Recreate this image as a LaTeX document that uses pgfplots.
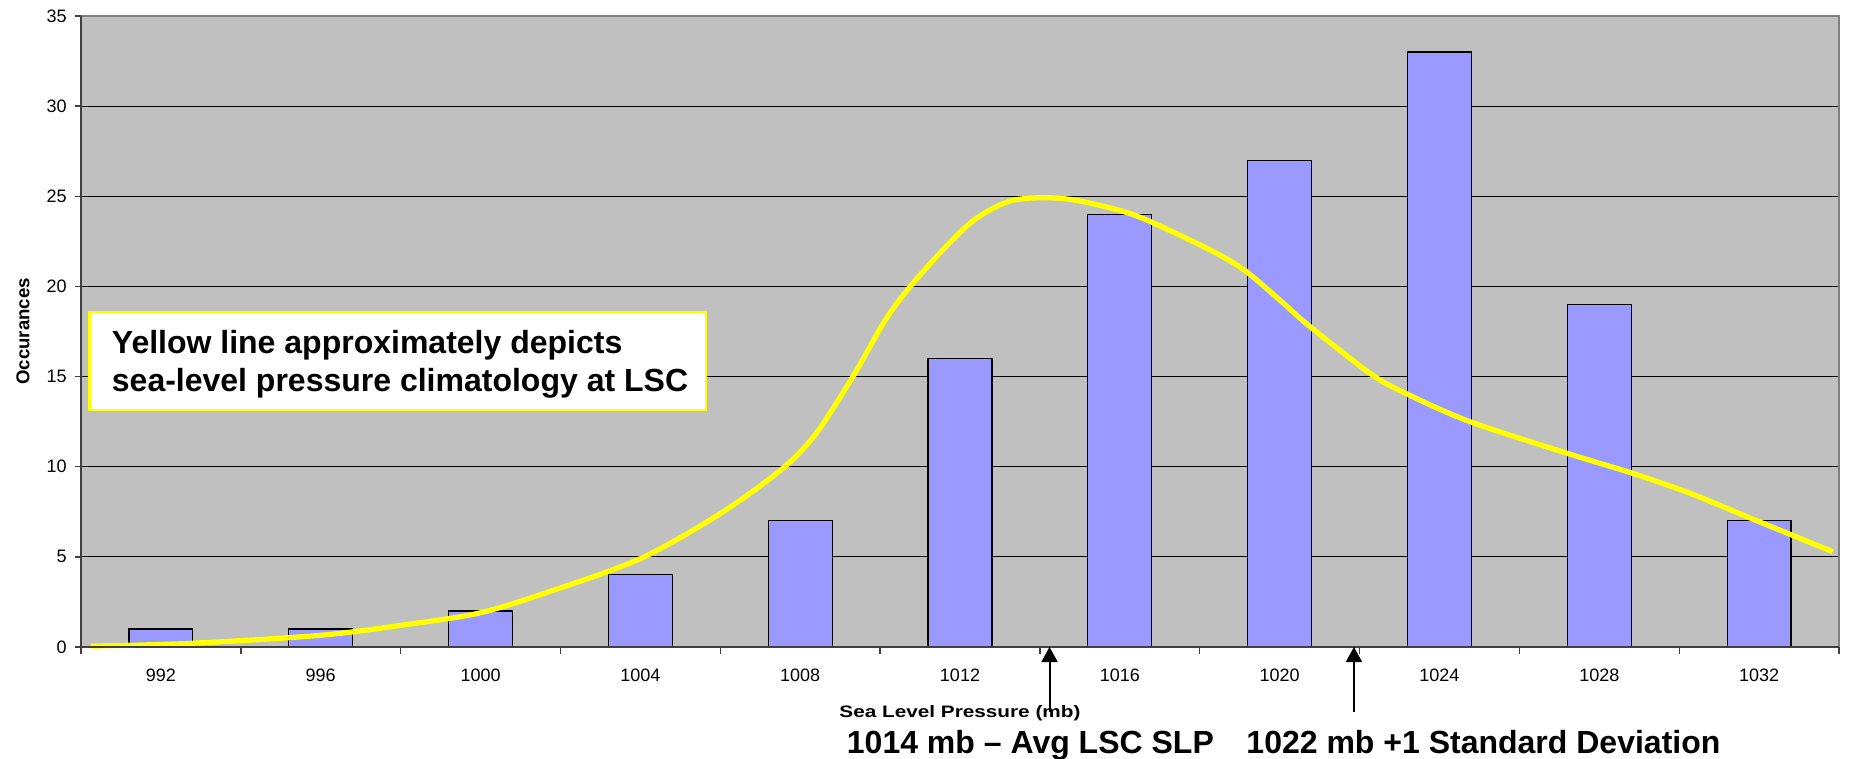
\documentclass[border=0pt]{standalone}
\usepackage{fontspec}
\setmainfont{Liberation Sans}
\usepackage{pgfplots}
\usepackage{pgfplotstable}
\pgfplotsset{compat=1.18}
\usetikzlibrary{arrows.meta}

\definecolor{plotbg}{HTML}{C0C0C0}
\definecolor{barfill}{HTML}{9999FF}
\definecolor{climyellow}{HTML}{FFFF00}
\definecolor{framegray}{HTML}{808080}
\definecolor{axisdark}{HTML}{404040}

% Observed counts per 4 mb pressure bin (bin index 0 = 992 mb)
\pgfplotstableread{
idx count
0   1
1   1
2   2
3   4
4   7
5   16
6   24
7   27
8   33
9   19
10  7
}\slpcounts

% Approximate climatological curve, in bin-index units
\pgfplotstableread{
x      y
-0.44  0.05
0.18   0.20
1.00   0.65
1.54   1.25
2.00   1.90
2.43   3.07
3.00   4.90
3.50   7.40
3.89   9.90
4.10   11.85
4.33   15.00
4.53   18.10
4.68   19.90
4.89   22.00
5.09   23.70
5.30   24.70
5.50   24.92
5.71   24.80
5.99   24.24
6.19   23.60
6.57   22.00
6.78   20.90
7.00   19.25
7.19   17.77
7.58   15.09
7.81   13.98
8.19   12.50
8.80   10.74
9.21   9.63
9.57   8.52
10.00  6.95
10.46  5.29
}\climcurve

\begin{document}
\begin{tikzpicture}
\path[use as bounding box] (-40.5bp,-56bp) rectangle (884bp,323.5bp);
\begin{axis}[
  at={(0,0)}, anchor=south west,
  scale only axis, width=879bp, height=315.5bp,
  xmin=-0.5, xmax=10.5, ymin=0, ymax=35,
  clip=false,
  axis background/.style={fill=plotbg},
  axis line style={draw=none},
  xtick={0,...,10},
  xticklabels={992,996,1000,1004,1008,1012,1016,1020,1024,1028,1032},
  minor xtick={-0.5,0.5,...,10.5},
  ytick={0,5,...,35},
  tick pos=left,
  ymajorgrids,
  grid style={black, line width=0.5bp},
  tick align=outside,
  major tick length=3bp, minor tick length=3.5bp,
  major x tick style={draw=none},
  tick style={axisdark, line width=0.7bp},
  /pgf/number format/assume math mode=true,
  tick label style={font=\fontsize{9bp}{10bp}\selectfont},
  xticklabel style={anchor=base, yshift=-14bp},
  yticklabel style={anchor=east, inner sep=0pt, xshift=-4bp},
  xlabel={Sea Level Pressure (mb)},
  xlabel style={at={(axis description cs:0.5,0)}, anchor=base, yshift=-35bp,
    font=\bfseries\addfontfeature{FakeStretch=1.25}\fontsize{8.3bp}{10bp}\selectfont},
  ylabel={Occurances},
  ylabel style={at={(axis description cs:-0.033,0.5)}, anchor=center,
    font=\bfseries\fontsize{9.3bp}{11bp}\selectfont},
]
\addplot[ybar, bar width=0.4, fill=barfill, draw=black, line width=0.6bp]
  table[x=idx, y=count] {\slpcounts};
\addplot[climyellow, line width=2.6bp, smooth, tension=0.5]
  table[x=x, y=y] {\climcurve};

% plot frame
\draw[framegray, line width=1bp] (rel axis cs:0,1) -- (rel axis cs:1,1) -- (rel axis cs:1,0);
\draw[axisdark, line width=1bp] (rel axis cs:0,1) -- (rel axis cs:0,0) -- (rel axis cs:1,0);

% annotation box
\draw[climyellow, line width=1.2bp, fill=white]
  (axis cs:-0.447,13.14) rectangle (axis cs:3.411,18.58);
\node[anchor=base west, inner sep=0pt, font=\bfseries\fontsize{16bp}{19bp}\selectfont]
  at (axis cs:-0.309,16.29) {Yellow line approximately depicts};
\node[anchor=base west, inner sep=0pt, font=\bfseries\fontsize{16bp}{19bp}\selectfont]
  at (axis cs:-0.309,14.16) {sea-level pressure climatology at LSC};

% markers for the mean and +1 standard deviation
\draw[black, line width=1bp, -{Triangle[length=7.5bp, width=8bp]}]
  (axis cs:5.56,-3.6) -- (axis cs:5.56,0);
\draw[black, line width=1bp, -{Triangle[length=7.5bp, width=8bp]}]
  (axis cs:7.465,-3.6) -- (axis cs:7.465,0);
\node[anchor=base west, inner sep=0pt, font=\bfseries\fontsize{16bp}{18bp}\selectfont]
  at (axis cs:4.29,-5.93) {1014 mb \textendash{} Avg LSC SLP};
\node[anchor=base west, inner sep=0pt, font=\bfseries\fontsize{16bp}{18bp}\selectfont]
  at (axis cs:6.79,-5.93) {1022 mb +1 Standard Deviation};
\end{axis}
\end{tikzpicture}
\end{document}
